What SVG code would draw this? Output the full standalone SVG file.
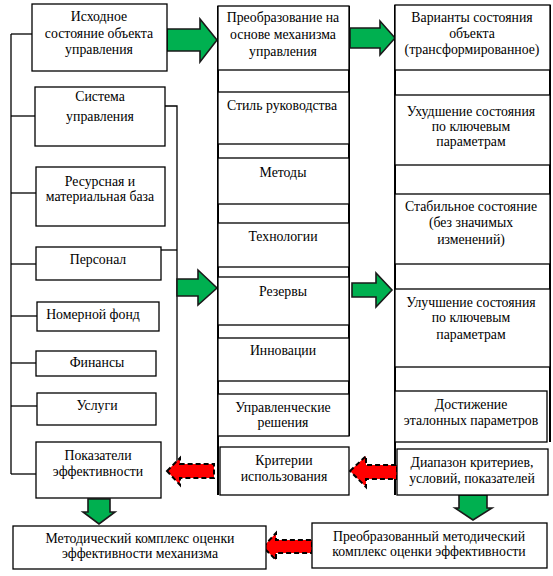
<svg xmlns="http://www.w3.org/2000/svg" width="553" height="576" viewBox="0 0 553 576">
<style>
.box{fill:#fff;stroke:#000;stroke-width:1.3}
.ln{fill:none;stroke:#000;stroke-width:1.3}
.fr{fill:none;stroke:#000;stroke-width:2}
text{font-family:"Liberation Serif","Times New Roman",serif;font-size:13.8px;fill:#000;text-anchor:middle}
.ga{fill:#00B050;stroke:#1a1a1a;stroke-width:1.6;stroke-linejoin:miter}
.ra{fill:#FF0000;stroke:#000;stroke-width:2;stroke-dasharray:5 3}
</style>
<rect width="553" height="576" fill="#fff"/>
<g id="connectors">
<path class="ln" d="M11,34 L11,474"/>
<path class="ln" d="M11,34 L32,34"/>
<path class="ln" d="M11,116 L35,116"/>
<path class="ln" d="M11,193 L36,193"/>
<path class="ln" d="M11,264 L36,264"/>
<path class="ln" d="M11,316 L37,316"/>
<path class="ln" d="M11,363 L36,363"/>
<path class="ln" d="M11,406 L37,406"/>
<path class="ln" d="M11,474 L36,474"/>
<path class="ln" d="M165,106 L177,106 L177,468"/>
<path class="ln" d="M161,250 L177,250"/>
<path class="fr" d="M218,6 L218,495"/>
<path class="fr" d="M349,6 L349,436"/>
<path class="fr" d="M395,5 L395,495"/>
<path class="fr" d="M550,5 L550,442"/>
<path class="ga" d="M167,29 L200,29 L200,19 L217,40 L200,62 L200,51 L167,51 Z"/>
<path class="ga" d="M350,28 L380,28 L380,21 L395,38 L380,55 L380,48 L350,48 Z"/>
<path class="ga" d="M177,279 L198,279 L198,270 L217,288 L198,305 L198,296 L177,296 Z"/>
<path class="ga" d="M352,283 L376,283 L376,273 L392,290 L376,307 L376,297 L352,297 Z"/>
<path class="ga" d="M88,499 L110,499 L110,512 L115,512 L99,524 L83,512 L88,512 Z"/>
<path class="ga" d="M459,495 L487,495 L487,508 L492,508 L473,520 L455,508 L459,508 Z"/>
<path class="ra" d="M167,471 L180,458 L180,464 L214,464 L214,478 L180,478 L180,485 Z"/>
<path class="ra" d="M350,471 L366,456 L366,465 L397,465 L397,479 L366,479 L366,487 Z"/>
<path class="ra" d="M263,547 L276,533 L276,540 L312,540 L312,553 L276,553 L276,560 Z"/>
</g>
<g id="n-initial"><rect class="box" x="32" y="4" width="135" height="67"/><text x="99" y="21">Исходное</text><text x="99" y="38">состояние объекта</text><text x="99" y="54">управления</text></g>
<g id="n-system"><rect class="box" x="35" y="87" width="130" height="59"/><text x="100" y="101">Система</text><text x="100" y="121">управления</text></g>
<g id="n-resource"><rect class="box" x="36" y="167" width="129" height="59"/><text x="100" y="186">Ресурсная и</text><text x="100" y="201">материальная база</text></g>
<g id="n-personnel"><rect class="box" x="36" y="247" width="125" height="33"/><text x="98" y="264">Персонал</text></g>
<g id="n-rooms"><rect class="box" x="37" y="302" width="122" height="29"/><text x="93" y="319">Номерной фонд</text></g>
<g id="n-finance"><rect class="box" x="36" y="351" width="120" height="25"/><text x="97" y="367">Финансы</text></g>
<g id="n-services"><rect class="box" x="37" y="393" width="119" height="32"/><text x="97" y="410">Услуги</text></g>
<g id="n-indicators"><rect class="box" x="36" y="442" width="125" height="56"/><text x="98" y="460">Показатели</text><text x="98" y="476">эффективности</text></g>
<g id="n-method"><rect class="box" x="13" y="526" width="253" height="43"/><text x="140" y="543">Методический комплекс оценки</text><text x="140" y="558">эффективности механизма</text></g>
<g id="n-transform"><rect class="box" x="218" y="6" width="131" height="64"/><text x="283" y="22">Преобразование на</text><text x="283" y="39">основе механизма</text><text x="283" y="56">управления</text></g>
<g id="n-style"><rect class="box" x="218" y="92" width="131" height="52"/><text x="282" y="110">Стиль руководства</text></g>
<g id="n-methods"><rect class="box" x="218" y="158" width="131" height="46"/><text x="283" y="177">Методы</text></g>
<g id="n-tech"><rect class="box" x="218" y="223" width="131" height="44"/><text x="283" y="241">Технологии</text></g>
<g id="n-reserves"><rect class="box" x="218" y="277" width="131" height="48"/><text x="283" y="296">Резервы</text></g>
<g id="n-innov"><rect class="box" x="218" y="338" width="131" height="43"/><text x="283" y="355">Инновации</text></g>
<g id="n-decisions"><rect class="box" x="218" y="394" width="131" height="42"/><text x="283" y="412">Управленческие</text><text x="283" y="427">решения</text></g>
<g id="n-criteria"><rect class="box" x="220" y="447" width="129" height="48"/><text x="284" y="465">Критерии</text><text x="284" y="481">использования</text></g>
<g id="n-variants"><rect class="box" x="395" y="5" width="155" height="65"/><text x="472" y="22">Варианты состояния</text><text x="472" y="38">объекта</text><text x="472" y="54">(трансформированное)</text></g>
<g id="n-worse"><rect class="box" x="395" y="95" width="155" height="70"/><text x="471" y="116">Ухудшение состояния</text><text x="471" y="131">по ключевым</text><text x="471" y="146">параметрам</text></g>
<g id="n-stable"><rect class="box" x="395" y="194" width="155" height="70"/><text x="471" y="211">Стабильное состояние</text><text x="471" y="227">(без значимых</text><text x="471" y="244">изменений)</text></g>
<g id="n-better"><rect class="box" x="395" y="289" width="155" height="78"/><text x="471" y="307">Улучшение состояния</text><text x="471" y="322">по ключевым</text><text x="471" y="339">параметрам</text></g>
<g id="n-reference"><rect class="box" x="395" y="391" width="152" height="51"/><text x="471" y="409">Достижение</text><text x="471" y="425">эталонных параметров</text></g>
<g id="n-range"><rect class="box" x="397" y="449" width="151" height="46"/><text x="472" y="467">Диапазон критериев,</text><text x="472" y="483">условий, показателей</text></g>
<g id="n-transformed-method"><rect class="box" x="312" y="523" width="235" height="45"/><text x="429" y="541">Преобразованный методический</text><text x="429" y="556">комплекс оценки эффективности</text></g>
</svg>
